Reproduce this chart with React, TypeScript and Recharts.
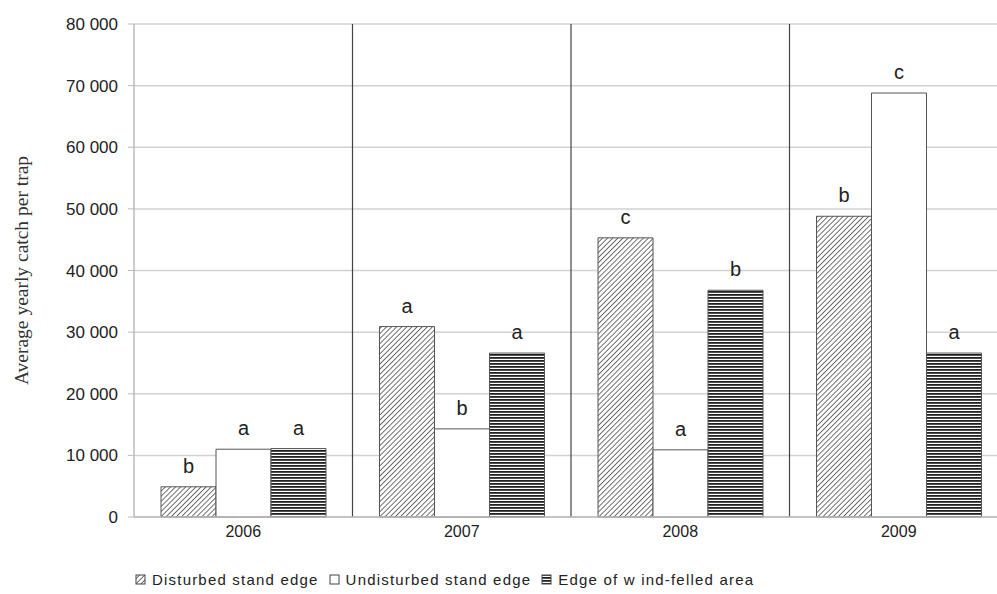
import { BarChart, Bar, XAxis, YAxis, CartesianGrid, ReferenceLine, LabelList, Legend } from 'recharts';

const years = ['2006', '2007', '2008', '2009'];
const disturbed = [4900, 30900, 45300, 48800];
const undisturbed = [11000, 14300, 10900, 68800];
const windFelled = [11100, 26600, 36800, 26600];
const disturbedLetters = ['b', 'a', 'c', 'b'];
const undisturbedLetters = ['a', 'b', 'a', 'c'];
const windFelledLetters = ['a', 'a', 'b', 'a'];
const yTicks = [0, 10000, 20000, 30000, 40000, 50000, 60000, 70000, 80000];
// a dividing line is drawn at the start of each of these years
const separators = ['2007', '2008', '2009'];

const data = years.map((year, i) => ({
  year,
  disturbed: disturbed[i],
  undisturbed: undisturbed[i],
  windFelled: windFelled[i],
  dLetter: disturbedLetters[i],
  uLetter: undisturbedLetters[i],
  wLetter: windFelledLetters[i],
}));

const SANS = '"Liberation Sans", Arial, sans-serif';

const formatTick = (v: number) => (v === 0 ? '0' : `${v / 1000} 000`);

const letterStyle = { fontFamily: SANS, fontSize: 20, fill: '#222' };

const legendItems = [
  { label: 'Disturbed stand edge', fill: 'url(#hatch)' },
  { label: 'Undisturbed stand edge', fill: '#fff' },
  { label: 'Edge of w ind-felled area', fill: 'url(#stripes)' },
];

function LegendContent() {
  return (
    <div style={{ height: 30, paddingLeft: 135, display: 'flex', alignItems: 'center', fontFamily: SANS, fontSize: 15, letterSpacing: 1.2, color: '#222' }}>
      {legendItems.map((item) => (
        <span key={item.label} style={{ display: 'inline-flex', alignItems: 'center', marginRight: 10 }}>
          <svg width={11} height={11} style={{ marginRight: 6 }}>
            <rect x={1} y={1} width={9} height={9} fill={item.fill} stroke="#444" strokeWidth={1} />
          </svg>
          {item.label}
        </span>
      ))}
    </div>
  );
}

export default function App() {
  return (
    <div style={{ position: 'fixed', left: 0, top: 0, width: 997, height: 594, overflow: 'hidden', background: '#fff' }}>
      <BarChart
        width={1010}
        height={594}
        data={data}
        margin={{ top: 24, right: 2, bottom: 0, left: 0 }}
        barGap={0}
        barSize={55}
      >
        <defs>
          <pattern id="hatch" patternUnits="userSpaceOnUse" width={3.6} height={3.6} patternTransform="rotate(45)">
            <rect width={3.6} height={3.6} fill="#fff" />
            <line x1={0} y1={0} x2={0} y2={3.6} stroke="#222" strokeWidth={1.3} />
          </pattern>
          <pattern id="stripes" patternUnits="userSpaceOnUse" width={6} height={3}>
            <rect width={6} height={3} fill="#fff" />
            <rect width={6} height={1.8} fill="#222" />
          </pattern>
        </defs>
        <CartesianGrid vertical={false} stroke="#d2d2d2" strokeWidth={1.5} />
        <XAxis
          dataKey="year"
          height={47}
          tickLine={false}
          axisLine={{ stroke: '#bbb', strokeWidth: 1.5 }}
          tick={{ fontFamily: SANS, fontSize: 16, fill: '#222' }}
          tickMargin={3}
        />
        <YAxis
          width={134}
          domain={[0, 80000]}
          ticks={yTicks}
          interval={0}
          tickFormatter={formatTick}
          tick={{ fontFamily: SANS, fontSize: 17, fill: '#222' }}
          tickLine={{ stroke: '#bbb' }}
          axisLine={{ stroke: '#bbb', strokeWidth: 1.5 }}
          tickSize={6}
          tickMargin={10}
          label={{
            value: 'Average yearly catch per trap',
            angle: -90,
            position: 'insideLeft',
            offset: 21,
            style: { fontFamily: '"Liberation Serif", "Times New Roman", serif', fontSize: 19.5, fill: '#333', textAnchor: 'middle' },
          }}
        />
        {separators.map((s) => (
          <ReferenceLine key={s} x={s} position="start" stroke="#444" strokeWidth={1.2} />
        ))}
        <Bar dataKey="disturbed" fill="url(#hatch)" stroke="#555" strokeWidth={1} isAnimationActive={false}>
          <LabelList dataKey="dLetter" position="top" offset={14} style={letterStyle} />
        </Bar>
        <Bar dataKey="undisturbed" fill="#fff" stroke="#555" strokeWidth={1} isAnimationActive={false}>
          <LabelList dataKey="uLetter" position="top" offset={14} style={letterStyle} />
        </Bar>
        <Bar dataKey="windFelled" fill="url(#stripes)" stroke="#555" strokeWidth={1} isAnimationActive={false}>
          <LabelList dataKey="wLetter" position="top" offset={14} style={letterStyle} />
        </Bar>
        <Legend verticalAlign="bottom" content={<LegendContent />} />
      </BarChart>
    </div>
  );
}
